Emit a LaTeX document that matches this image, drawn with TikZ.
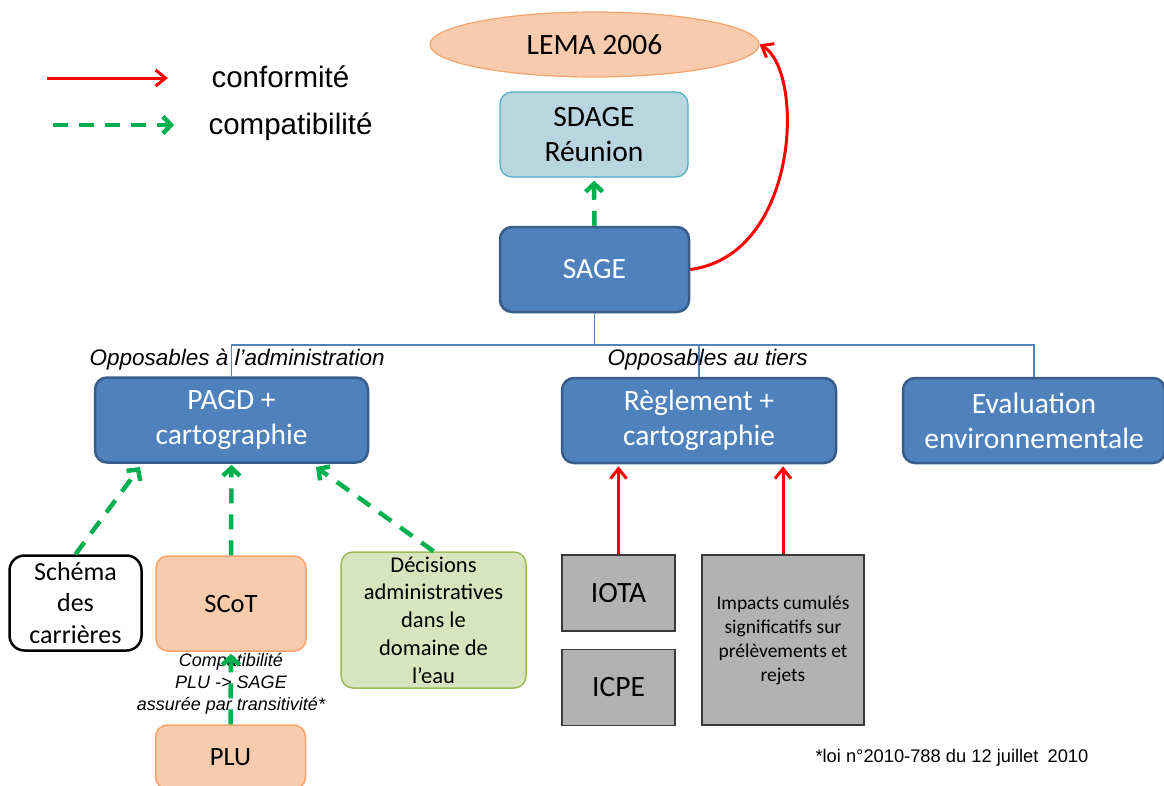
\documentclass[tikz,border=0pt]{standalone}
\usepackage{fontspec}
\setmainfont{Carlito}
\newfontfamily\arialfont{Liberation Sans}
\usepackage{tikz}
\usetikzlibrary{positioning}
\usetikzlibrary{arrows.meta,shapes.geometric}
\definecolor{sageblue}{HTML}{4F81BD}
\definecolor{sageedge}{HTML}{385D8A}
\definecolor{sdagefill}{HTML}{B9D6E0}
\definecolor{sdageedge}{HTML}{4BACC6}
\definecolor{salmon}{HTML}{F8CBAD}
\definecolor{salmonedge}{HTML}{F4A46C}
\definecolor{eaufill}{HTML}{D7E4BD}
\definecolor{eauedge}{HTML}{9BBB59}
\definecolor{grisfill}{HTML}{B2B2B2}
\definecolor{grisedge}{HTML}{3A3A3A}
\definecolor{conf}{HTML}{FF0000}
\definecolor{compat}{HTML}{00B050}
\tikzset{
  bigtext/.style={font=\fontsize{29.5}{35}\selectfont},
  box/.style={rounded corners=12pt,align=center,inner sep=0pt},
  sagebox/.style={box,fill=sageblue,draw=sageedge,line width=2.5pt,text=white,bigtext},
  sdagebox/.style={box,fill=sdagefill,draw=sdageedge,line width=1.2pt,bigtext},
  salmonbox/.style={box,fill=salmon,draw=salmonedge,line width=1.5pt,font=\fontsize{26.5}{32}\selectfont},
  eaubox/.style={box,fill=eaufill,draw=eauedge,line width=1.5pt,font=\fontsize{22.5}{27.7}\selectfont},
  carrbox/.style={box,rounded corners=15pt,fill=white,draw=black,line width=2.5pt,font=\fontsize{26}{31.5}\selectfont},
  grisbox/.style={fill=grisfill,draw=grisedge,line width=1.8pt,align=center,inner sep=0pt},
  legendtext/.style={font=\arialfont\fontsize{29.5}{34}\selectfont},
  opptext/.style={font=\arialfont\itshape\fontsize{22.5}{26}\selectfont},
  conformite/.style={draw=conf,line width=3pt,-{Straight Barb[length=10pt,width=16pt]}},
  compatibilite/.style={draw=compat,line width=4.5pt,dash pattern=on 15pt off 11pt,-{Straight Barb[length=8pt,width=17pt]}},
  tree/.style={draw=sageblue,line width=1.3pt}
}
\begin{document}
\begin{tikzpicture}[x=1pt,y=-1pt]
  \clip (0,0) rectangle (1164,785);
  \coordinate (confA) at (47,78);
  \coordinate (confB) at (168,78);
  \coordinate (compA) at (53,125);
  \coordinate (compB) at (174,125);
  \draw[conformite] (confA) -- (confB);
  \draw[compatibilite] (compA) -- (compB);
  \node[legendtext,anchor=base west] (conftext) at (208,87) {conformité};
  \node[legendtext,anchor=base west] (comptext) at (205,134) {compatibilité};

  \node[ellipse,fill=salmon,draw=salmonedge,line width=1.2pt,minimum width=329,minimum height=65,inner sep=0pt,bigtext] (lema) at (594.5,44.5) {LEMA 2006};
  \node[sdagebox,minimum width=188,minimum height=85] (sdage) at (594,134.5) {SDAGE\\Réunion};
  \node[sagebox,minimum width=189,minimum height=85] (sage) at (594.5,269.5) {SAGE};
  \draw[compatibilite,shorten >=3pt] (sage.north) -- (sdage.south);
  \draw[conformite] (sage.east) .. controls (800,255) and (805,70) .. (lema.east);

  \node[sagebox,minimum width=273,minimum height=85] (pagd) at (231.5,420) {PAGD +\\cartographie};
  \node[sagebox,minimum width=274,minimum height=85] (regl) at (699,420.5) {Règlement +\\cartographie};
  \node[sagebox,minimum width=262,minimum height=85] (evalenv) at (1034,420.5) {Evaluation\\environnementale};
  \coordinate (fork) at (594.5,345);
  \draw[tree] (sage.south) -- (fork);
  \draw[tree] (pagd.north) |- (fork);
  \draw[tree] (regl.north) |- (fork);
  \draw[tree] (evalenv.north) |- (fork);
  \node[opptext,anchor=base west] (oppadmin) at (86,365) {Opposables à l’administration};
  \node[opptext,anchor=base west] (opptiers) at (604,365) {Opposables au tiers};

  \node[carrbox,minimum width=132,minimum height=95] (schema) at (75.5,603) {Schéma\\des\\carrières};
  \node[salmonbox,minimum width=150,minimum height=95] (scot) at (231,603.5) {SCoT};
  \node[eaubox,minimum width=185,minimum height=136] (decis) at (433.5,620) {Décisions\\administratives\\dans le\\domaine de\\l’eau};
  \node[salmonbox,minimum width=150,minimum height=64] (plu) at (230.5,757) {PLU};
  \coordinate (pagdL) at (140,467);
  \coordinate (pagdR) at (316,467);
  \draw[compatibilite] (schema.north) -- (pagdL);
  \draw[compatibilite,shorten >=1pt] (scot.north) -- (pagd.south);
  \draw[compatibilite] (decis.north) -- (pagdR);
  \node[font=\arialfont\itshape\fontsize{18}{22}\selectfont,align=center] (transit) at (231,684) {Compatibilité\\PLU -> SAGE\\assurée par transitivité*};
  \draw[compatibilite,shorten >=2pt] (plu.north) -- (scot.south);

  \node[grisbox,minimum width=113,minimum height=76,bigtext] (iota) at (618.5,593) {IOTA};
  \node[grisbox,minimum width=113,minimum height=76,bigtext] (icpe) at (618.5,687.5) {ICPE};
  \node[grisbox,minimum width=162,minimum height=170,font=\fontsize{19.5}{24}\selectfont] (impacts) at (783,640) {Impacts cumulés\\significatifs sur\\prélèvements et\\rejets};
  \draw[conformite,shorten >=2pt] (iota.north) -- (iota.north |- regl.south);
  \draw[conformite,shorten >=2pt] (impacts.north) -- (impacts.north |- regl.south);

  \node[font=\arialfont\fontsize{18.3}{22}\selectfont,anchor=base west] (loi) at (812,762) {*loi n°2010-788 du 12 juillet\enspace 2010};
\end{tikzpicture}
\end{document}
